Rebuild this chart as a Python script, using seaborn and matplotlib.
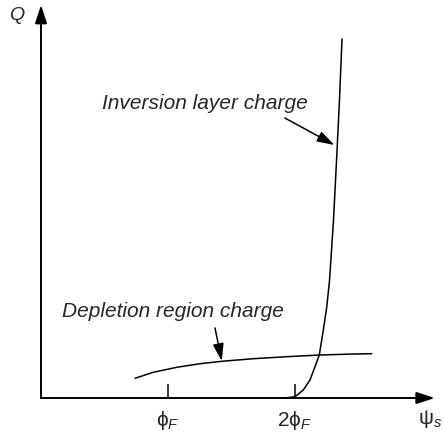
import matplotlib
matplotlib.use("Agg")
import matplotlib.pyplot as plt
import seaborn as sns
import pandas as pd

# surface potential (in units of phi_F) and charge (arbitrary units)
depl_psi = [0.740, 0.884, 1.069, 1.252, 1.423, 1.672, 1.935, 2.197, 2.459, 2.604]
depl_q = [0.197, 0.257, 0.307, 0.343, 0.367, 0.393, 0.413, 0.430, 0.440, 0.443]

inv_psi = [1.921, 2.000, 2.065, 2.118, 2.157, 2.191, 2.223, 2.250, 2.272, 2.303,
           2.331, 2.350, 2.370]
inv_q = [0.0, 0.013, 0.08, 0.18, 0.313, 0.43, 0.68, 0.913, 1.18, 1.78,
         2.48, 2.98, 3.59]

tick_pos = [1, 2]
tick_labels = ["ϕ$_F$", "2ϕ$_F$"]

sns.set_style("white")
plt.rcParams["font.family"] = ["Liberation Sans", "DejaVu Sans"]
plt.rcParams["mathtext.fontset"] = "custom"
plt.rcParams["mathtext.rm"] = "Liberation Sans"
plt.rcParams["mathtext.it"] = "Liberation Sans:italic"

fig = plt.figure(figsize=(4.44, 4.36), dpi=100)
ax = fig.add_axes([0, 0, 1, 1])

depl = pd.DataFrame({"psi": depl_psi, "q": depl_q})
inv = pd.DataFrame({"psi": inv_psi, "q": inv_q})
sns.lineplot(data=depl, x="psi", y="q", sort=False, color="black", lw=1.1, ax=ax)
sns.lineplot(data=inv, x="psi", y="q", sort=False, color="black", lw=1.1, ax=ax)

ax.set_xlim(-0.323, 3.173)
ax.set_ylim(-0.38, 3.98)

# axes through the origin with arrowheads
for side in ["top", "right"]:
    ax.spines[side].set_visible(False)
ax.spines["left"].set_position(("data", 0))
ax.spines["bottom"].set_position(("data", 0))
ax.spines["left"].set_bounds(0, 3.85)
ax.spines["bottom"].set_bounds(0, 3.02)
for s in ["left", "bottom"]:
    ax.spines[s].set_color("black")
    ax.spines[s].set_linewidth(1.4)
arrow = dict(arrowstyle="-|>,head_length=0.55,head_width=0.18", color="black",
             lw=1.4, mutation_scale=20, shrinkA=0, shrinkB=0)
ax.annotate("", xy=(0, 3.93), xytext=(0, 3.7), arrowprops=arrow)
ax.annotate("", xy=(3.10, 0), xytext=(2.9, 0), arrowprops=arrow)

ax.set_xticks(tick_pos)
ax.set_xticklabels(tick_labels, fontsize=15)
ax.set_yticks([])
ax.tick_params(axis="x", direction="in", length=10, width=1.1, color="black", pad=8,
               bottom=True)
ax.set_xlabel("")
ax.set_ylabel("")

ax.text(-0.19, 3.83, "Q", fontsize=14, style="italic", ha="center", va="center")
ax.text(2.97, -0.21, "ψ$_s$", fontsize=15, ha="left", va="center")

small_arrow = dict(arrowstyle="-|>,head_length=0.7,head_width=0.22", color="black",
                   lw=1.1, mutation_scale=15, shrinkA=0, shrinkB=0)
ax.text(0.48, 2.95, "Inversion layer charge", fontsize=15, style="italic",
        va="center", ha="left")
ax.annotate("", xy=(2.31, 2.53), xytext=(1.92, 2.80), arrowprops=small_arrow)
ax.text(0.165, 0.87, "Depletion region charge", fontsize=15, style="italic",
        va="center", ha="left")
ax.annotate("", xy=(1.423, 0.37), xytext=(1.37, 0.70), arrowprops=small_arrow)

fig.savefig("out.png", dpi=100)
